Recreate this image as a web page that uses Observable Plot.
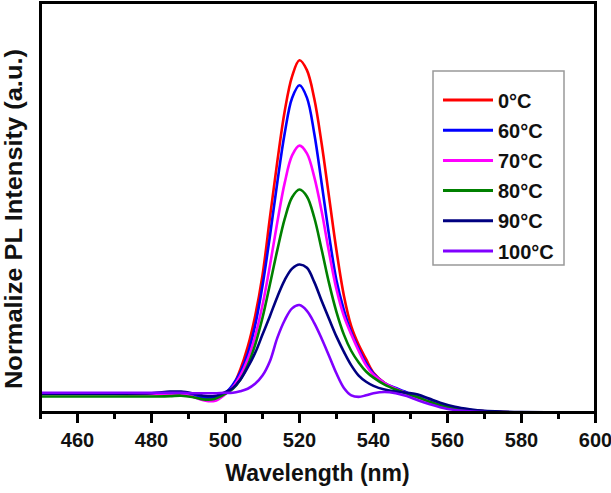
<!DOCTYPE html>
<html><head><meta charset="utf-8">
<script src="https://cdn.jsdelivr.net/npm/d3@7"></script>
<script src="https://cdn.jsdelivr.net/npm/@observablehq/plot@0.6"></script>
<style>
body{margin:0;background:#fff}
#chart{position:relative;width:611px;height:493px}
</style>
</head><body><div id="chart"></div>
<script>
const wavelengths = [450,460,470,480,485,488,491,494,497,500,502,504,506,508,510,512,514,516,518,520,522,524,526,528,530,532,534,536,538,540,543,546,549,552,555,558,562,566,570,575,580,590,600];
const seriesNames = ["0°C","60°C","70°C","80°C","90°C","100°C"];
const seriesColors = ["#ff0000","#0000ff","#ff00ff","#008000","#000080","#8000ff"];
const int0 = [0.045,0.045,0.045,0.045,0.046,0.046,0.042,0.035,0.033,0.047,0.065,0.105,0.16,0.235,0.335,0.475,0.612,0.735,0.82,0.859,0.835,0.765,0.655,0.525,0.395,0.285,0.21,0.165,0.13,0.097,0.072,0.058,0.047,0.037,0.027,0.018,0.01,0.006,0.003,0.001,0,0,0];
const int60 = [0.046,0.046,0.046,0.046,0.047,0.047,0.043,0.037,0.036,0.048,0.068,0.098,0.143,0.212,0.309,0.43,0.561,0.681,0.767,0.798,0.768,0.68,0.558,0.432,0.322,0.25,0.195,0.155,0.12,0.095,0.072,0.06,0.049,0.04,0.03,0.02,0.011,0.006,0.003,0.001,0,0,0];
const int70 = [0.045,0.045,0.045,0.045,0.045,0.045,0.039,0.030,0.028,0.045,0.062,0.09,0.13,0.186,0.262,0.358,0.464,0.56,0.627,0.651,0.632,0.574,0.49,0.39,0.30,0.235,0.19,0.15,0.115,0.092,0.072,0.058,0.047,0.037,0.027,0.018,0.01,0.005,0.003,0.001,0,0,0];
const int80 = [0.039,0.039,0.039,0.039,0.04,0.041,0.038,0.032,0.033,0.046,0.058,0.08,0.115,0.165,0.231,0.312,0.396,0.472,0.525,0.544,0.527,0.475,0.397,0.315,0.245,0.19,0.15,0.122,0.1,0.085,0.068,0.056,0.046,0.037,0.027,0.018,0.01,0.005,0.003,0.001,0,0,0];
const int90 = [0.046,0.046,0.046,0.047,0.051,0.051,0.047,0.041,0.04,0.05,0.06,0.08,0.11,0.145,0.19,0.235,0.282,0.323,0.351,0.361,0.353,0.318,0.272,0.228,0.185,0.148,0.115,0.09,0.075,0.065,0.056,0.051,0.048,0.044,0.034,0.024,0.014,0.008,0.004,0.002,0.001,0,0];
const int100 = [0.048,0.048,0.048,0.048,0.048,0.048,0.047,0.047,0.047,0.048,0.048,0.052,0.058,0.07,0.09,0.125,0.182,0.225,0.254,0.262,0.248,0.218,0.18,0.138,0.095,0.06,0.042,0.038,0.042,0.047,0.05,0.047,0.04,0.03,0.021,0.013,0.006,0.003,0.001,0,0,0,0];
const xTicksMajor = [460,480,500,520,540,560,580,600];
const xTicksMinor = [450,470,490,510,530,550,570,590];
const xTitle = "Wavelength (nm)";
const yTitle = "Normalize PL Intensity (a.u.)";

const allSeries = [int0,int60,int70,int80,int90,int100];
const data = seriesNames.flatMap((name,i)=>wavelengths.map((w,j)=>({w, v: allSeries[i][j], s: name})));

const W = 611, H = 493, mL = 40, mR = 16, mT = 2, mB = 81;
const font = "'Liberation Sans', Arial, Helvetica, sans-serif";

const plot = Plot.plot({
  width: W, height: H, marginLeft: mL, marginRight: mR, marginTop: mT, marginBottom: mB,
  style: {fontFamily: font, background: "white", color: "black", overflow: "visible"},
  x: {domain: [450, 600]},
  y: {domain: [0, 1]},
  color: {domain: seriesNames, range: seriesColors},
  marks: [
    Plot.line(data, {x: "w", y: "v", z: "s", stroke: "s", strokeWidth: 2.6, curve: "catmull-rom"}),
    Plot.axisX({ticks: xTicksMinor, tickSize: 7, strokeWidth: 3, text: null, label: null}),
    Plot.axisX({ticks: xTicksMajor, tickSize: 11, strokeWidth: 3, tickPadding: 9, fontSize: 20, fontWeight: "bold", label: null, tickFormat: d => String(d)}),
    Plot.axisY({ticks: [], label: null}),
    Plot.frame({stroke: "black", strokeWidth: 3})
  ]
});
document.getElementById("chart").appendChild(plot);

const svg = d3.select(plot);
svg.selectAll('g[aria-label="x-axis tick label"] text').attr("font-weight", "bold").attr("font-size", 20).attr("fill", "#111");

svg.append("text").text(xTitle)
  .attr("x", (mL + W - mR) / 2).attr("y", 481)
  .attr("text-anchor", "middle").attr("font-family", font)
  .attr("font-size", 23).attr("font-weight", "bold").attr("fill", "#111");

svg.append("text").text(yTitle)
  .attr("transform", `translate(22,219) rotate(-90)`)
  .attr("text-anchor", "middle").attr("font-family", font)
  .attr("font-size", 23).attr("font-weight", "bold").attr("fill", "#111")
  .attr("textLength", 340).attr("lengthAdjust", "spacingAndGlyphs");

// legend
const lg = svg.append("g").attr("text-anchor", "start");
lg.append("rect").attr("x", 433).attr("y", 71).attr("width", 131).attr("height", 194)
  .attr("fill", "white").attr("stroke", "#999").attr("stroke-width", 1.5);
seriesNames.forEach((name, i) => {
  const yy = 100 + i * 30.2;
  lg.append("line").attr("x1", 443).attr("x2", 493).attr("y1", yy).attr("y2", yy)
    .attr("stroke", seriesColors[i]).attr("stroke-width", 3);
  lg.append("text").text(name).attr("x", 498).attr("y", yy + 7.5)
    .attr("text-anchor", "start")
    .attr("font-family", font).attr("font-size", 20).attr("font-weight", "bold").attr("fill", "#111");
});
</script>
</body></html>
